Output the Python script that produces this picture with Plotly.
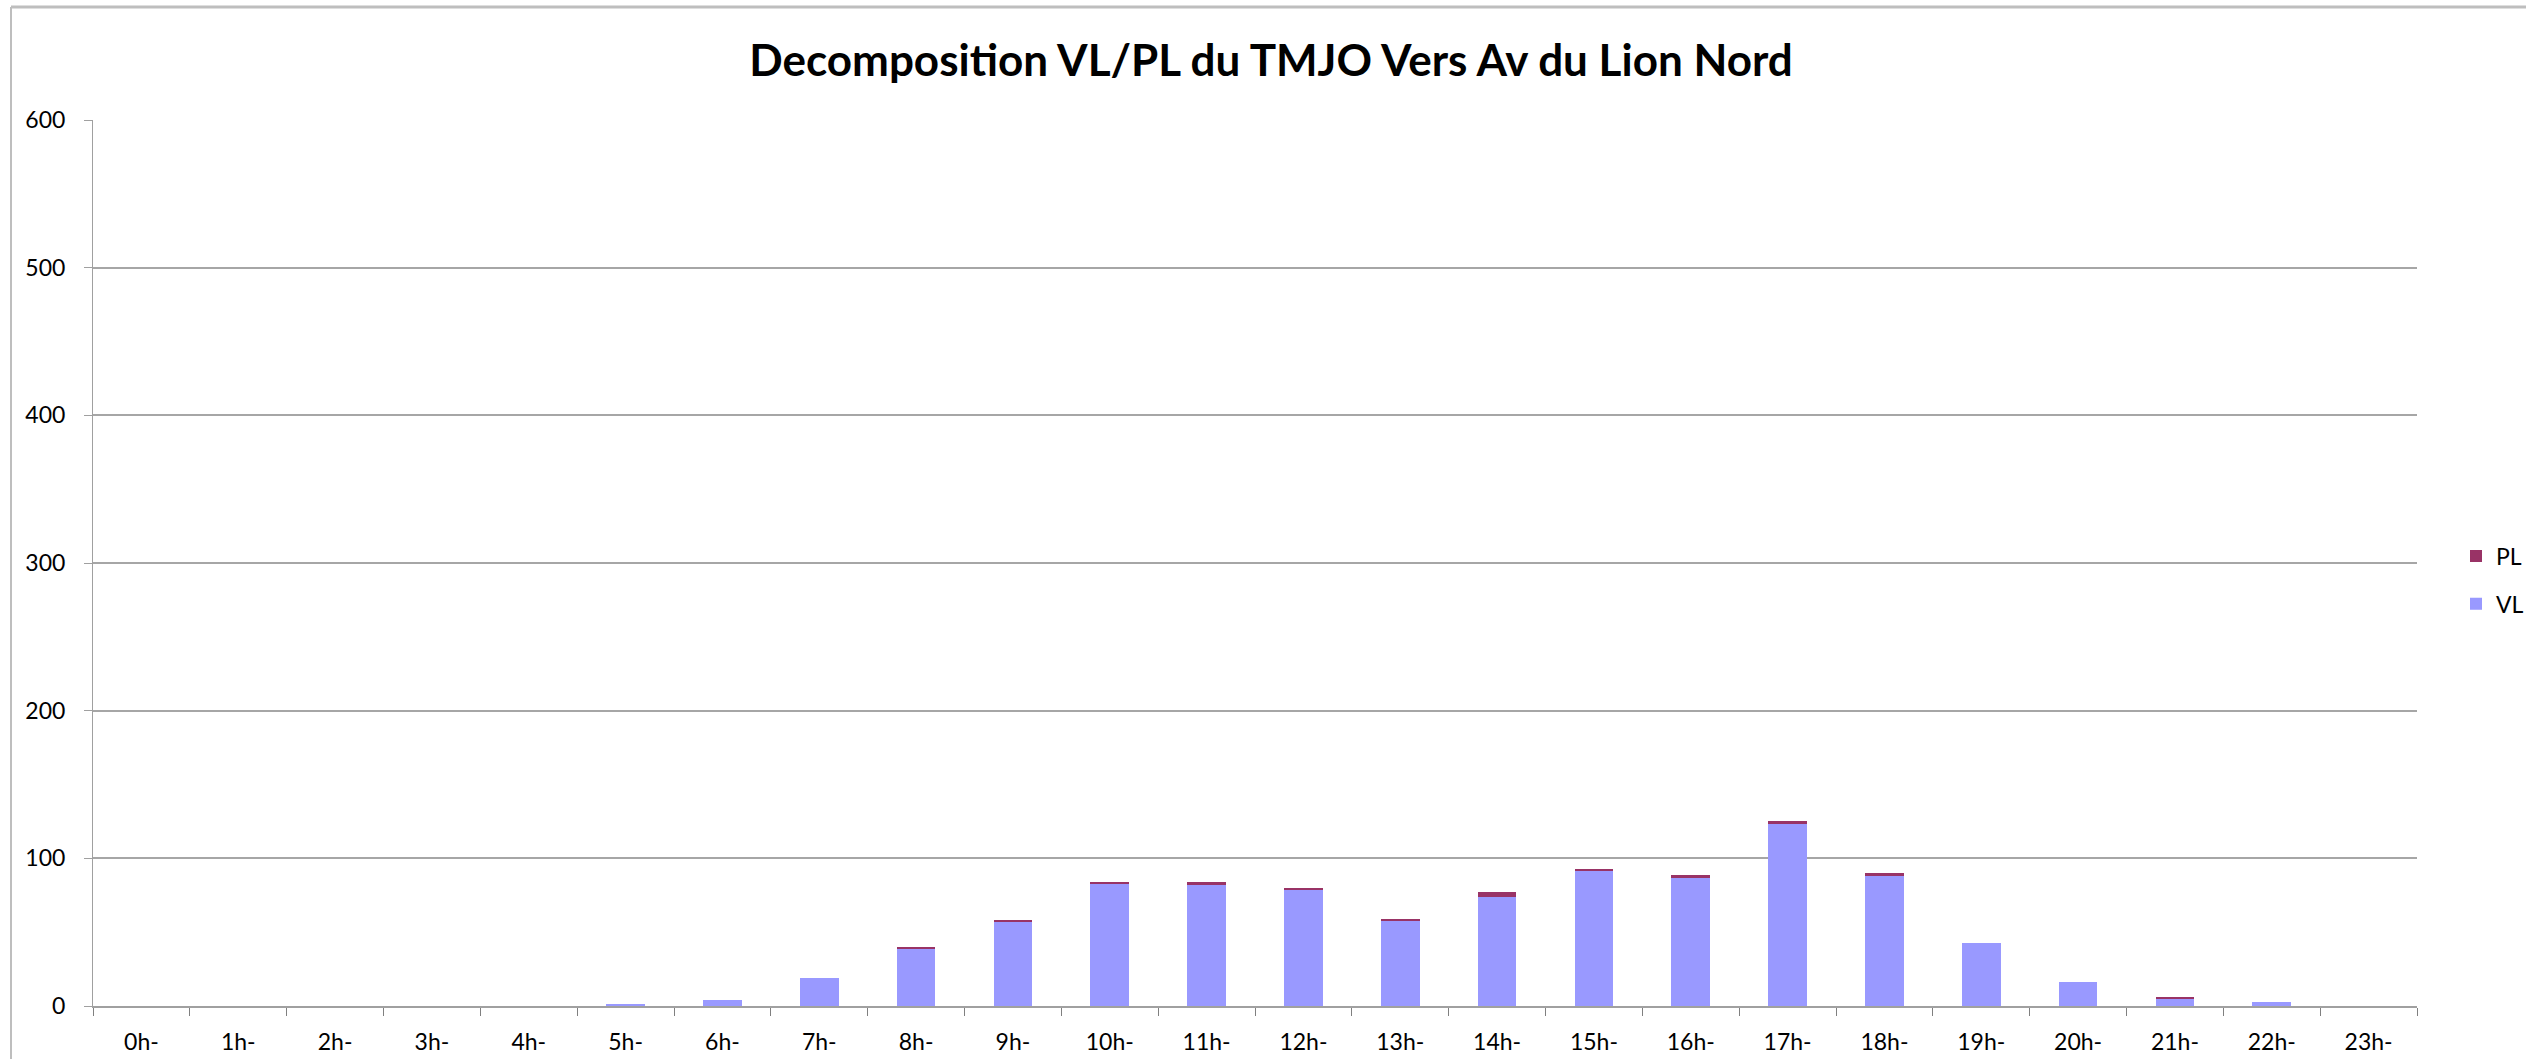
import plotly.graph_objects as go

hours = [f"{h}h-" for h in range(24)]
vl = [0, 0, 0, 0, 0, 1, 4, 19, 39, 57, 83, 82, 79, 58, 74, 92, 87, 123, 88, 43, 16, 5, 3, 0]
pl = [0, 0, 0, 0, 0, 0, 0, 0, 1, 1, 1, 2, 1, 1, 3, 1, 2, 2, 2, 0, 0, 1, 0, 0]
y_ticks = [0, 100, 200, 300, 400, 500, 600]

W, H = 2526, 1059
L, R, T, B = 93, 2526 - 2417, 120, 1059 - 1006
pw, ph = W - L - R, H - T - B

fig = go.Figure()
fig.add_trace(go.Bar(x=hours, y=vl, name="VL", legendgroup="vl", legendrank=2,
                     marker=dict(color="#9999FF", line=dict(width=0))))
fig.add_trace(go.Bar(x=hours, y=pl, name="PL", legendgroup="pl", legendrank=1,
                     marker=dict(color="#993366", line=dict(width=0))))

fig.update_layout(
    width=W, height=H,
    barmode="stack", bargap=0.6,
    margin=dict(l=L, r=R, t=T, b=B, autoexpand=False),
    paper_bgcolor="white", plot_bgcolor="white",
    font=dict(family="Lato", size=23, color="black"),
    title=dict(text="<b>Decomposition VL/PL du TMJO Vers Av du Lion Nord</b>",
               x=1271 / W, xanchor="center", y=1 - 61 / H, yanchor="middle",
               font=dict(family="Lato", size=44, color="black")),
    legend=dict(x=(2456 - L) / pw, xanchor="left", y=(1006 - 580) / ph, yanchor="middle",
                traceorder="grouped", tracegroupgap=15,
                font=dict(family="Lato", size=23), itemwidth=30,
                bgcolor="rgba(0,0,0,0)"),
    showlegend=True,
    xaxis=dict(type="category", showgrid=False, showline=True, linecolor="#A0A0A0", linewidth=2,
               ticks="outside", tickson="boundaries", ticklen=8, tickcolor="#808080", tickwidth=1,
               zeroline=False, ticklabelstandoff=14, automargin=False),
    yaxis=dict(range=[0, 600], tickvals=y_ticks, showgrid=True, gridcolor="#A6A6A6", gridwidth=2,
               showline=True, linecolor="#A0A0A0", linewidth=1, ticks="outside", ticklen=8,
               tickcolor="#A0A0A0", zeroline=False, ticklabelstandoff=14, automargin=False),
    shapes=[dict(type="line", xref="paper", yref="paper", x0=(11 - L) / pw, x1=(11 - L) / pw,
                 y0=-0.2, y1=(1006 - 7) / ph, line=dict(color="#BEBEBE", width=2)),
            dict(type="line", xref="paper", yref="paper", x0=(11 - L) / pw, x1=1.2,
                 y0=(1006 - 7) / ph, y1=(1006 - 7) / ph, line=dict(color="#BEBEBE", width=3))],
)

fig.write_html("out.html", config={"displayModeBar": False},
               post_script="document.body.style.margin='0';document.body.style.overflow='hidden';")
